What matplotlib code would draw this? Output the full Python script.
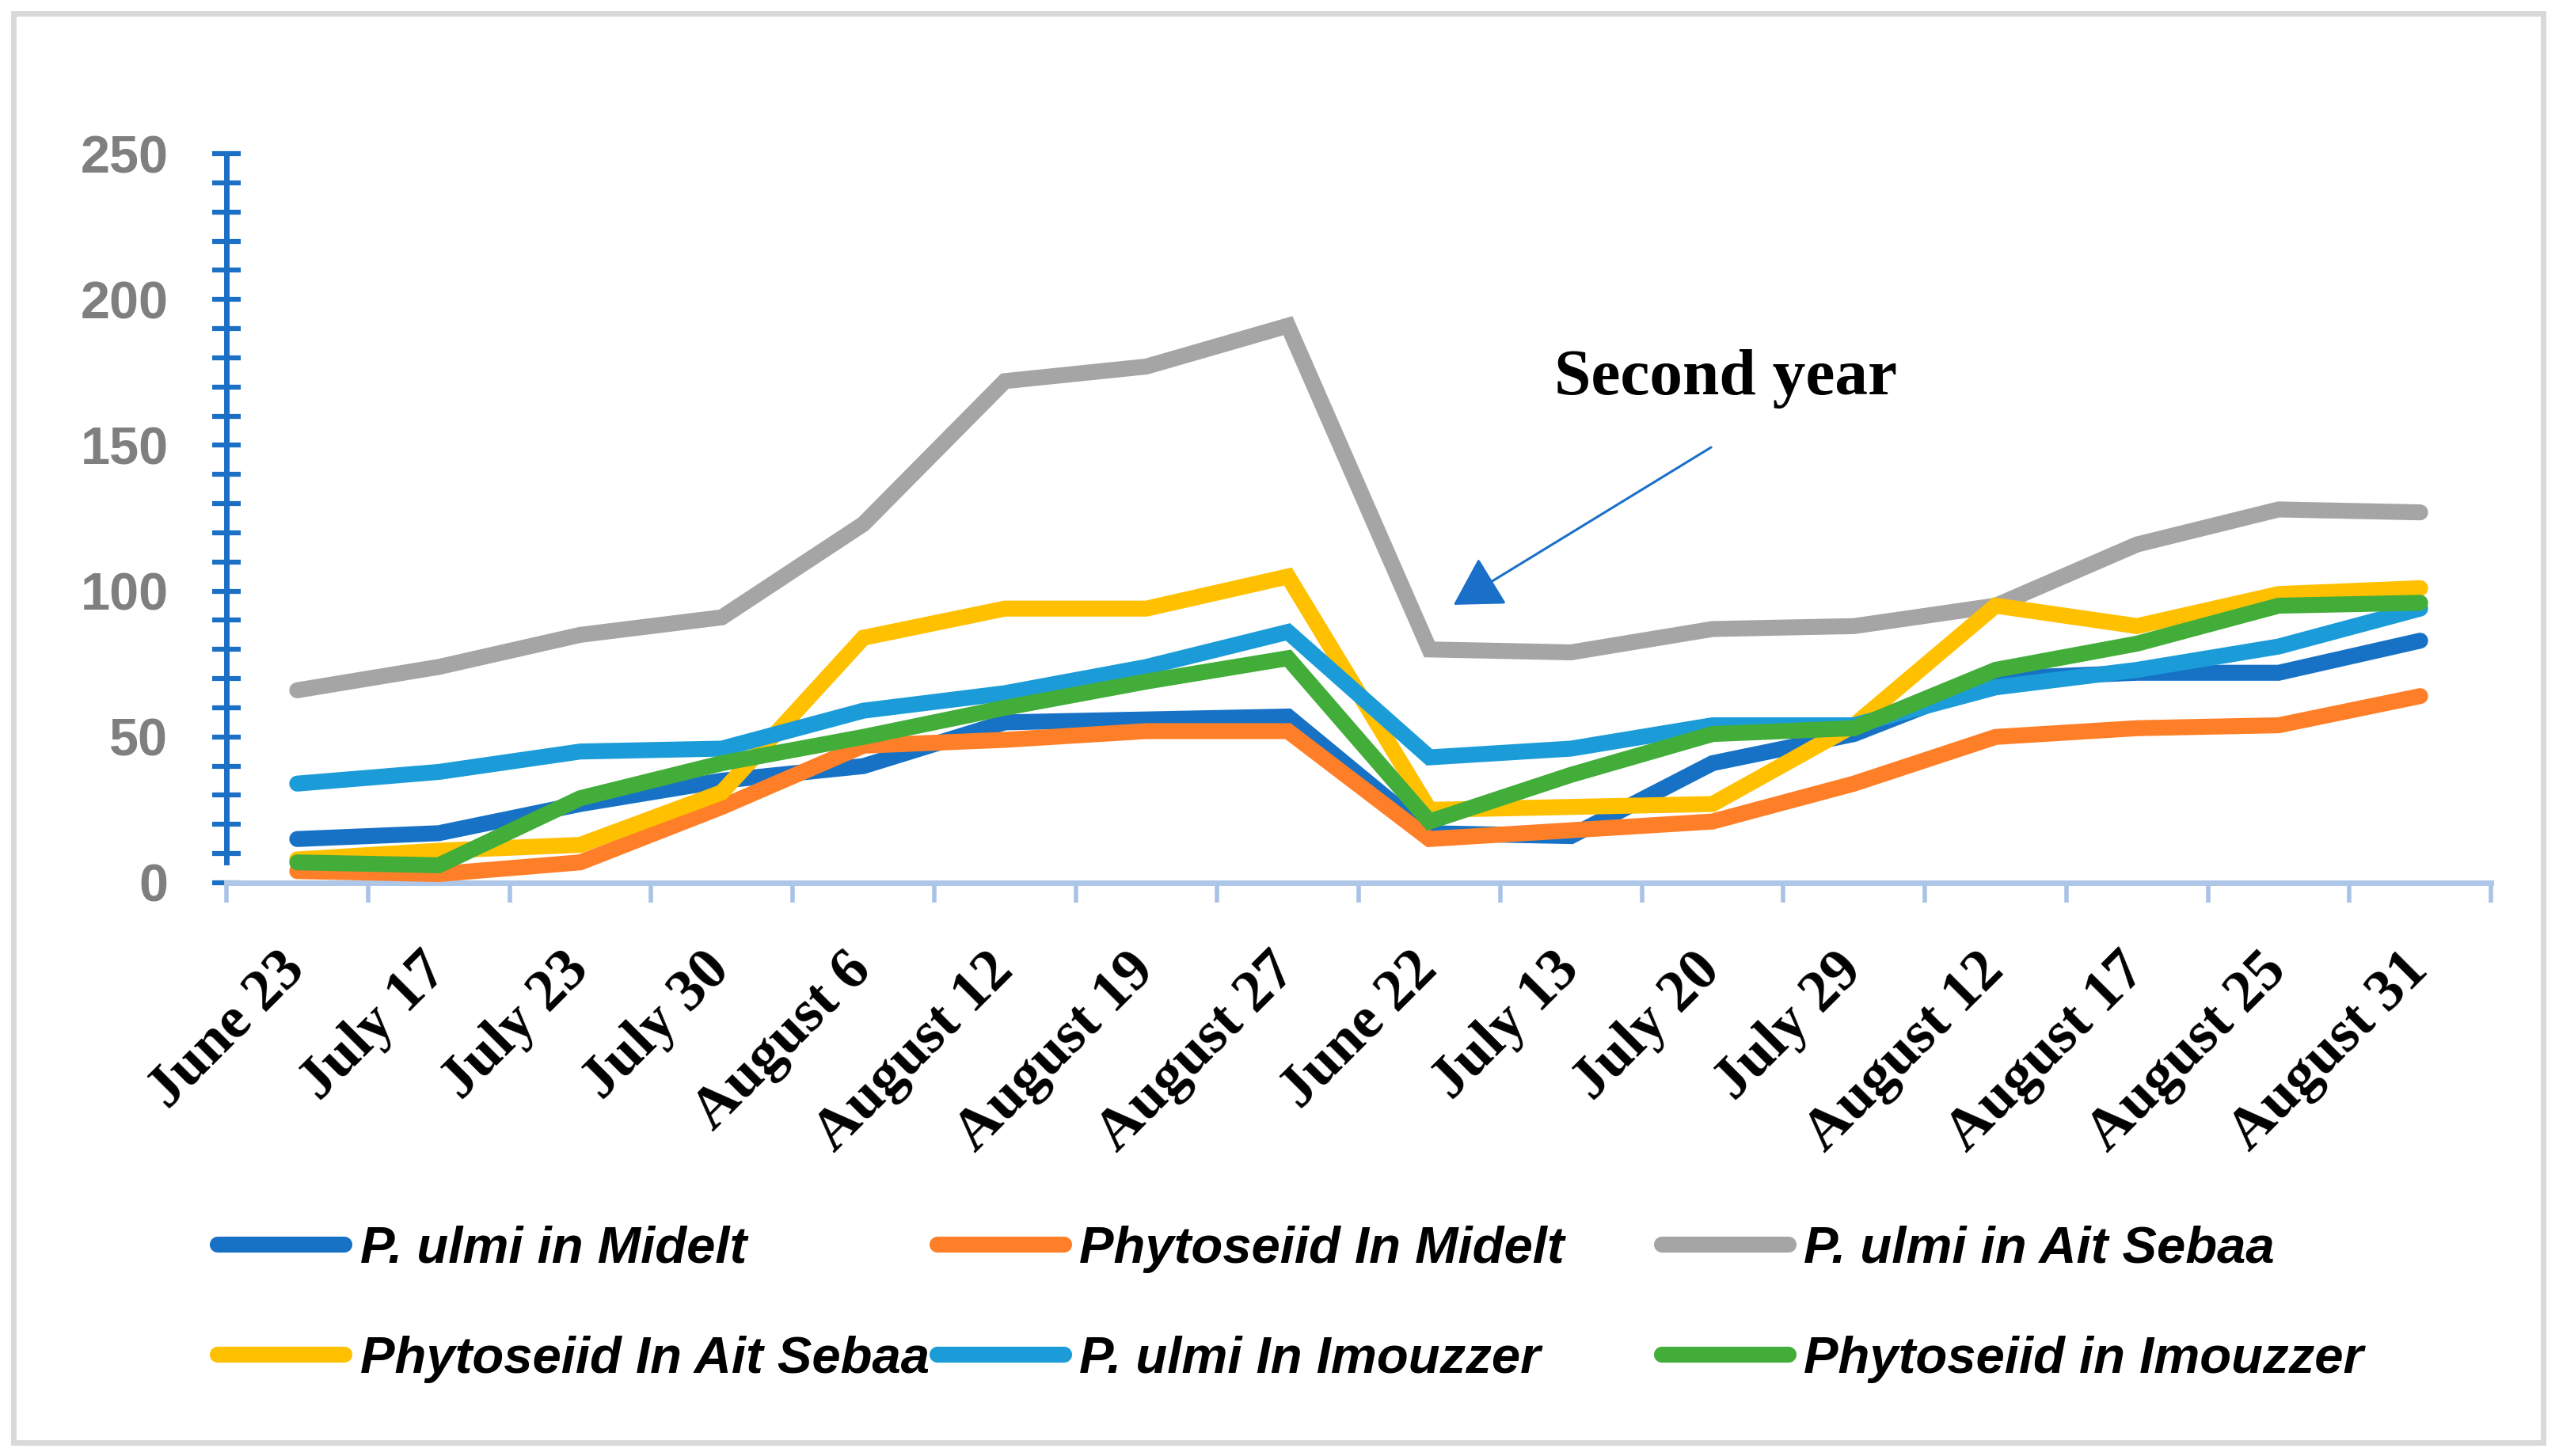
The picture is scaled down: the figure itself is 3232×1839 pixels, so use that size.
import matplotlib
matplotlib.use('Agg')
import matplotlib.pyplot as plt
from matplotlib.ticker import MultipleLocator, FixedLocator, NullFormatter
from matplotlib.patches import Rectangle

dates = ["June 23", "July 17", "July 23", "July 30", "August 6", "August 12",
         "August 19", "August 27", "June 22", "July 13", "July 20", "July 29",
         "August 12", "August 17", "August 25", "August 31"]

ulmi_midelt = [15, 17, 27, 35, 40, 55, 56, 57, 17, 16, 41, 51, 70, 72, 72, 83]
phyto_midelt = [4, 3, 7, 26, 47, 49, 52, 52, 15, 18, 21, 34, 50, 53, 54, 64]
ulmi_ait = [66, 74, 85, 91, 123, 172, 177, 191, 80, 79, 87, 88, 95, 116, 128, 127]
phyto_ait = [8, 11, 13, 31, 84, 94, 94, 105, 25, 26, 27, 54, 95, 88, 99, 101]
ulmi_imouzzer = [34, 38, 45, 46, 59, 65, 74, 86, 43, 46, 54, 54, 67, 73, 81, 94]
phyto_imouzzer = [7, 6, 29, 41, 50, 60, 69, 77, 21, 37, 51, 53, 73, 82, 95, 96]

series_names = ["P. ulmi in Midelt", "Phytoseiid In Midelt", "P. ulmi in Ait Sebaa",
                "Phytoseiid In Ait Sebaa", "P. ulmi In Imouzzer", "Phytoseiid in Imouzzer"]
series_values = [ulmi_midelt, phyto_midelt, ulmi_ait, phyto_ait, ulmi_imouzzer, phyto_imouzzer]
colors = ["#1772c6", "#fe7f27", "#a5a5a5", "#ffc000", "#1b9cd8", "#43ad3a"]

annotation_text = "Second year"

fig = plt.figure(figsize=(32.32, 18.39), dpi=100)
ax = fig.add_axes([0.0885, 0.3937, 0.9734 - 0.0885, 0.8945 - 0.3937])

x = list(range(len(dates)))
lines = []
for vals, name, col in zip(series_values, series_names, colors):
    ln, = ax.plot(x, vals, color=col, lw=14.5, solid_capstyle='round',
                  solid_joinstyle='miter', label=name, zorder=3)
    lines.append(ln)

ax.set_xlim(-0.5, len(dates) - 0.5)
ax.set_ylim(0, 250)

# spines
for s in ['top', 'right']:
    ax.spines[s].set_visible(False)
axis_blue = "#1b6fc5"
ax.spines['left'].set_color(axis_blue)
ax.spines['left'].set_linewidth(5)
ax.spines['left'].set_bounds(7, 250)
ax.spines['bottom'].set_color("#aec6e8")
ax.spines['bottom'].set_linewidth(5)
ax.spines['bottom'].set_zorder(2)

# y ticks
ax.yaxis.set_major_locator(MultipleLocator(50))
ax.yaxis.set_minor_locator(MultipleLocator(10))
ax.tick_params(axis='y', which='both', direction='inout', length=26, width=4.5,
               color=axis_blue)
ax.tick_params(axis='y', which='major', pad=40, labelsize=48, labelcolor="#7f7f7f")
for lab in ax.get_yticklabels():
    lab.set_family(['Liberation Sans', 'DejaVu Sans'])
    lab.set_fontweight('bold')

# x ticks: labels at centres, marks at boundaries
ax.set_xticks(x)
ax.set_xticklabels(dates)
ax.xaxis.set_minor_locator(FixedLocator([i - 0.5 for i in range(len(dates) + 1)]))
ax.xaxis.set_minor_formatter(NullFormatter())
ax.tick_params(axis='x', which='major', length=0, pad=72)
ax.tick_params(axis='x', which='minor', direction='out', length=18, width=4,
               color="#a9c3e6")
for lab in ax.get_xticklabels():
    lab.set_family(['Liberation Serif', 'DejaVu Serif'])
    lab.set_fontweight('bold')
    lab.set_fontsize(54)
    lab.set_rotation(45)
    lab.set_ha('right')
    lab.set_va('center')
    lab.set_rotation_mode('anchor')

# annotation
ax.text(8.88, 167.5, annotation_text, family=['Liberation Serif', 'DejaVu Serif'],
        fontweight='bold', fontsize=60, ha='left', va='baseline', color='black')
ax.annotate('', xy=(8.17, 95.3), xytext=(9.99, 149.3),
            arrowprops=dict(arrowstyle='-|>,head_length=38,head_width=22',
                            mutation_scale=1, lw=2.2, color="#1a70c8",
                            shrinkA=0, shrinkB=0))

# legends: three columns of two rows
leg_font = dict(family=['Liberation Sans', 'DejaVu Sans'], weight='bold',
                style='italic', size=47)
col_x = [0.0851, 0.3663, 0.6494]
legs = []
for c in range(3):
    hs = [lines[c], lines[c + 3]]
    leg = fig.legend(hs, [h.get_label() for h in hs], loc='center left',
                     bbox_to_anchor=(col_x[c], 0.1044), bbox_transform=fig.transFigure,
                     frameon=False, borderpad=0, borderaxespad=0,
                     handlelength=2.45, handletextpad=0.3, labelspacing=1.21,
                     prop=leg_font)
    legs.append(leg)

# outer border
fig.patches.append(Rectangle((0.0053, 0.0092), 0.9885, 0.9816, transform=fig.transFigure,
                             fill=False, edgecolor="#d9d9d9", lw=5, zorder=0))

fig.savefig("out.png", dpi=100, facecolor='white')
